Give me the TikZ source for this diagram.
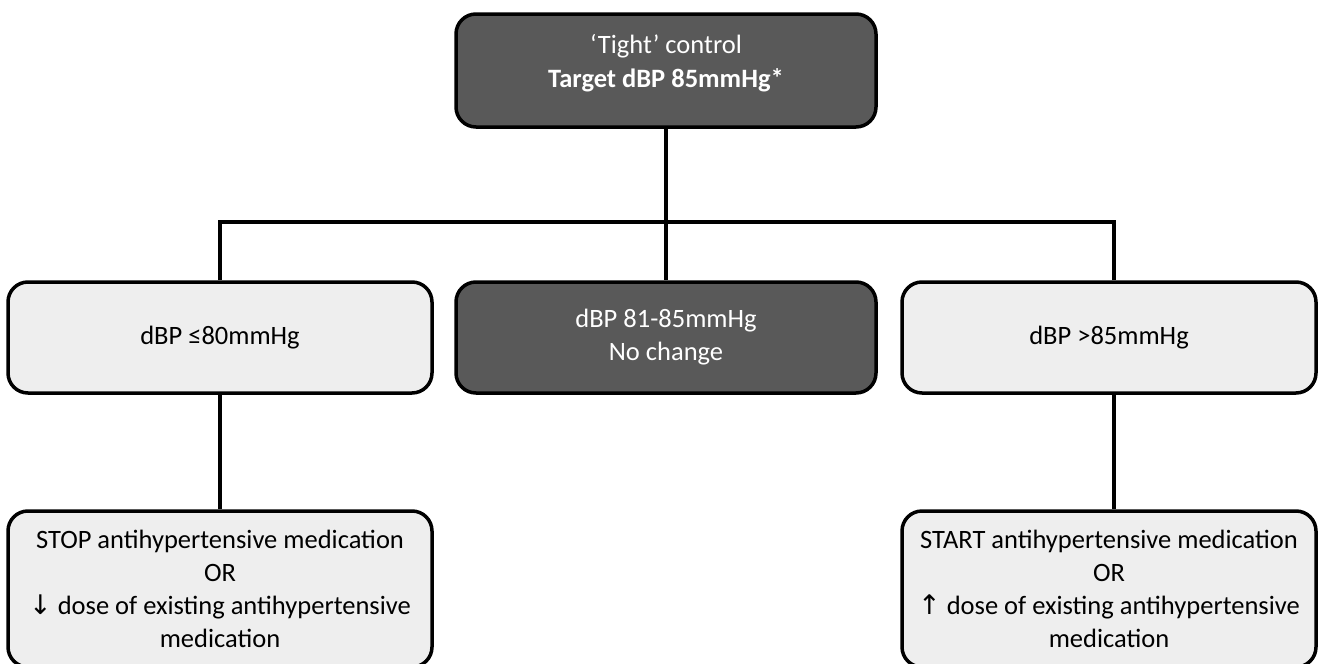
\documentclass[tikz,border=0pt]{standalone}
\usepackage{fontspec}
\setmainfont{Carlito}
\newfontfamily\symfont{DejaVu Sans}
\definecolor{darkbox}{HTML}{595959}
\definecolor{lightbox}{HTML}{EEEEEE}
\newcommand{\arw}[1]{{\symfont\fontsize{27}{33}\selectfont #1}}
\begin{document}
\begin{tikzpicture}[x=1pt,y=-1pt,
  box/.style={draw=black,line width=3.5pt,rounded corners=20pt,minimum width=424pt,minimum height=111pt,align=center,font=\fontsize{26.5}{33}\selectfont,inner sep=4pt},
  darkb/.style={box,fill=darkbox,text=white},
  lightb/.style={box,fill=lightbox,text=black},
  conn/.style={line width=3.5pt}]
\useasboundingbox (0,0) rectangle (1323,664);
\node[darkb,minimum width=420pt,minimum height=113pt] (top) at (666,70.5) {};
\node[text=white,align=center,font=\fontsize{26.5}{34}\selectfont] (toptext) at (666,63) {‘Tight’ control\\\textbf{Target dBP 85mmHg*}};
\node[lightb] (left) at (220,337.5) {dBP ≤80mmHg};
\node[darkb,minimum width=420pt] (mid) at (666,337.5) {dBP 81-85mmHg\\No change};
\node[lightb,minimum width=414pt] (right) at (1109,337.5) {dBP >85mmHg};
\node[lightb,minimum height=156pt] (bl) at (220,589) {STOP antihypertensive medication\\OR\\\arw{↓} dose of existing antihypertensive\\medication};
\node[lightb,minimum width=414pt,minimum height=156pt] (br) at (1109,589) {START antihypertensive medication\\OR\\\arw{↑} dose of existing antihypertensive\\medication};
\coordinate (hj) at (666,222);
\coordinate (rj) at ([xshift=5pt]right.north);
\draw[conn] (top.south) -- (hj);
\draw[conn] (hj) -- (mid.north);
\draw[conn] (left.north) |- (hj);
\draw[conn] (rj) |- (hj);
\draw[conn] (left.south) -- (bl.north);
\draw[conn] ([xshift=5pt]right.south) -- ([xshift=5pt]br.north);
\end{tikzpicture}
\end{document}
